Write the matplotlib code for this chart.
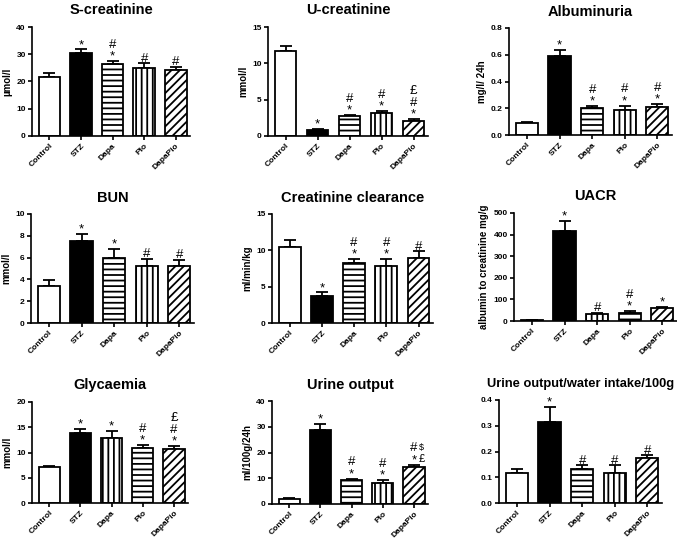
import numpy as np
import matplotlib
matplotlib.use('Agg')
from matplotlib import pyplot as plt

plt.rcParams['font.family'] = ['Liberation Sans', 'DejaVu Sans']
plt.rcParams['hatch.linewidth'] = 1.3

groups = ['Control', 'STZ', 'Dapa', 'Pio', 'DapaPio']

s_creat = [21.7, 30.5, 26.3, 25.1, 24.2]
s_creat_sem = [1.5, 1.3, 1.3, 1.6, 1.2]
s_creat_sig = [[], ['*'], ['*', '#'], ['#'], ['#']]

u_creat = [11.7, 0.8, 2.7, 3.1, 2.1]
u_creat_sem = [0.7, 0.15, 0.2, 0.3, 0.2]
u_creat_sig = [[], ['*'], ['*', '#'], ['*', '#'], ['*', '#', '£']]

albu = [0.09, 0.59, 0.20, 0.19, 0.21]
albu_sem = [0.01, 0.045, 0.015, 0.03, 0.02]
albu_sig = [[], ['*'], ['*', '#'], ['*', '#'], ['*', '#']]

bun = [3.4, 7.5, 5.95, 5.2, 5.2]
bun_sem = [0.5, 0.7, 0.85, 0.7, 0.6]
bun_sig = [[], ['*'], ['*'], ['#'], ['#']]

crcl = [10.5, 3.7, 8.2, 7.8, 8.9]
crcl_sem = [0.9, 0.5, 0.6, 1.0, 1.0]
crcl_sig = [[], ['*'], ['*', '#'], ['*', '#'], ['#']]

uacr = [4, 415, 32, 38, 58]
uacr_sem = [1, 50, 6, 8, 8]
uacr_sig = [[], ['*'], ['#'], ['*', '#'], ['*']]

glyc = [7.1, 13.8, 12.9, 10.9, 10.7]
glyc_sem = [0.3, 0.9, 1.4, 0.6, 0.6]
glyc_sig = [[], ['*'], ['*'], ['*', '#'], ['*', '#', '£']]

uo = [2.0, 28.7, 9.3, 8.0, 14.4]
uo_sem = [0.4, 2.3, 0.6, 1.3, 0.9]
# second symbol in a row is drawn small, to the right
uo_sig = [[], ['*'], ['*', '#'], ['*', '#'], ['* £', '# $']]

uowi = [0.115, 0.315, 0.133, 0.118, 0.173]
uowi_sem = [0.018, 0.058, 0.013, 0.03, 0.012]
uowi_sig = [[], ['*'], ['#'], ['#'], ['#']]

W, H = 677, 540
fig = plt.figure(figsize=(W / 100, H / 100), dpi=100)


def panel(box, title, ylabel, mean, sem, sig, ymax, ystep, fmt, swap=False, tsize=10.5):
    l, t, r, b = box
    ax = fig.add_axes([l / W, 1 - b / H, (r - l) / W, (b - t) / H])
    x = np.arange(len(groups))
    faces = ['white', 'black', 'white', 'white', 'white']
    hatches = [None, None, '---', '|||', '////']
    if swap:
        hatches[2], hatches[3] = hatches[3], hatches[2]
    for i in range(len(groups)):
        ax.bar(x[i], mean[i], 0.68, color=faces[i], edgecolor='black',
               linewidth=1.3, hatch=hatches[i], zorder=2)
    ax.errorbar(x, mean, yerr=[np.zeros(len(sem)), sem], fmt='none',
                ecolor='black', elinewidth=1.3, capsize=4.5, capthick=1.3, zorder=1)
    for i, rows in enumerate(sig):
        for j, s in enumerate(rows):
            parts = s.split()
            top = mean[i] + sem[i]
            ax.annotate(parts[0], (x[i], top), xytext=(0, 1 + j * 8.5),
                        textcoords='offset points', ha='center', va='baseline',
                        fontsize=9.5)
            if len(parts) > 1:
                ax.annotate(parts[1], (x[i], top), xytext=(3.5, 2 + j * 8.5),
                            textcoords='offset points', ha='left', va='baseline',
                            fontsize=6.5 + (j == 0) * 1.5)
    ax.set_xlim(-0.55, 4.45)
    ax.set_ylim(0, ymax)
    ticks = np.arange(0, ymax + ystep / 2, ystep)
    ax.set_yticks(ticks)
    ax.set_yticklabels([fmt.format(v) for v in ticks], fontsize=6, fontweight='bold')
    ax.set_xticks(x)
    ax.set_xticklabels(groups, rotation=45, ha='right', rotation_mode='anchor',
                       fontsize=6, fontweight='bold')
    for sp in ['top', 'right']:
        ax.spines[sp].set_visible(False)
    for sp in ['left', 'bottom']:
        ax.spines[sp].set_linewidth(1.2)
    ax.tick_params(width=1.2, length=3, pad=1.5)
    ax.set_title(title, fontsize=tsize, fontweight='bold', pad=9)
    if ylabel:
        ax.set_ylabel(ylabel, fontsize=7, fontweight='bold', labelpad=3)
    return ax


panel((32, 27, 190, 136), 'S-creatinine', 'µmol/l', s_creat, s_creat_sem, s_creat_sig, 40, 10, '{:.0f}')
panel((268, 27, 428, 136), 'U-creatinine', 'mmol/l', u_creat, u_creat_sem, u_creat_sig, 15, 5, '{:.0f}')
panel((509, 28, 672, 135), 'Albuminuria', 'mg/l/ 24h', albu, albu_sem, albu_sig, 0.8, 0.2, '{:.1f}')
panel((31, 214, 194, 323), 'BUN', 'mmol/l', bun, bun_sem, bun_sig, 10, 2, '{:.0f}')
panel((272, 214, 433, 323), 'Creatinine clearance', 'ml/min/kg', crcl, crcl_sem, crcl_sig, 15, 5, '{:.0f}')
panel((514, 213, 677, 321), 'UACR', 'albumin to creatinine mg/g', uacr, uacr_sem, uacr_sig, 500, 100, '{:.0f}', swap=True)
panel((32, 402, 188, 503), 'Glycaemia', 'mmol/l', glyc, glyc_sem, glyc_sig, 20, 5, '{:.0f}', swap=True)
panel((272, 401, 428, 504), 'Urine output', 'ml/100g/24h', uo, uo_sem, uo_sig, 40, 10, '{:.0f}')
panel((499, 400, 662, 503), 'Urine output/water intake/100g', None, uowi, uowi_sem, uowi_sig,
      0.4, 0.1, '{:.1f}', tsize=9.3)

fig.savefig('out.png', dpi=100)
